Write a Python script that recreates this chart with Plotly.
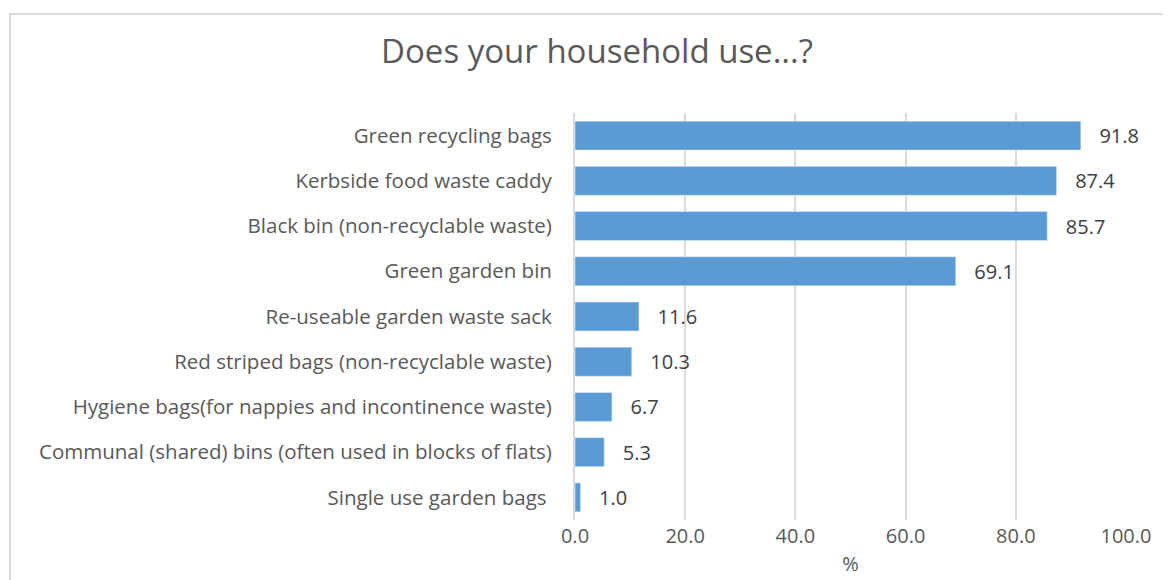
import plotly.graph_objects as go

categories = [
    "Green recycling bags",
    "Kerbside food waste caddy",
    "Black bin (non-recyclable waste)",
    "Green garden bin",
    "Re-useable garden waste sack",
    "Red striped bags (non-recyclable waste)",
    "Hygiene bags(for nappies and incontinence waste)",
    "Communal (shared) bins (often used in blocks of flats)",
    "Single use garden bags ",
]
values = [91.8, 87.4, 85.7, 69.1, 11.6, 10.3, 6.7, 5.3, 1.0]
x_ticks = [0, 20, 40, 60, 80, 100]

text_color = "#595959"
font_family = "Open Sans, Carlito, Liberation Sans, sans-serif"

# page body has an 8px margin; plot area target in screenshot: x 575..1126, y 113..520
OFF = 8

fig = go.Figure(
    go.Bar(
        x=values,
        y=categories,
        orientation="h",
        marker=dict(color="#5B9BD5"),
        text=["   " + f"{v:.1f}" for v in values],
        textposition="outside",
        textfont=dict(size=20, color="#404040", family=font_family),
        cliponaxis=False,
    )
)

fig.update_layout(
    width=1171,
    height=580,
    paper_bgcolor="white",
    plot_bgcolor="white",
    margin=dict(l=575 - OFF, r=1171 - (1126 - OFF), t=113 - OFF, b=580 - (520 - OFF)),
    bargap=0.36,
    showlegend=False,
    title=dict(
        text="Does your household use...?",
        x=(597 - OFF) / 1171,
        xanchor="center",
        y=1 - (51 - OFF) / 580,
        yanchor="middle",
        font=dict(size=33, color=text_color, family=font_family),
    ),
    font=dict(family=font_family, color=text_color),
)

fig.update_xaxes(
    range=[0, 100],
    tickvals=x_ticks,
    tickformat=".1f",
    showgrid=True,
    gridcolor="#d9d9d9",
    gridwidth=2,
    zeroline=False,
    showline=False,
    ticks="",
    ticklabelstandoff=2,
    tickfont=dict(size=20, color=text_color),
    title=dict(text="%", font=dict(size=20, color=text_color), standoff=8),
)

fig.update_yaxes(
    categoryorder="array",
    categoryarray=categories[::-1],
    showgrid=False,
    zeroline=False,
    showline=True,
    linecolor="#d9d9d9",
    linewidth=2,
    ticks="",
    ticklabelstandoff=17,
    tickfont=dict(size=20.5, color=text_color),
)

# outer chart border (paper coords derived from plot area pixels)
fig.add_shape(
    type="rect",
    xref="paper",
    yref="paper",
    x0=(10 - 575) / 551,
    x1=(1190 - 575) / 551,
    y0=(520 - 600) / 407,
    y1=(520 - 14) / 407,
    line=dict(color="#d9d9d9", width=2),
    fillcolor="rgba(0,0,0,0)",
    layer="below",
)

fig.write_html("out.html")
